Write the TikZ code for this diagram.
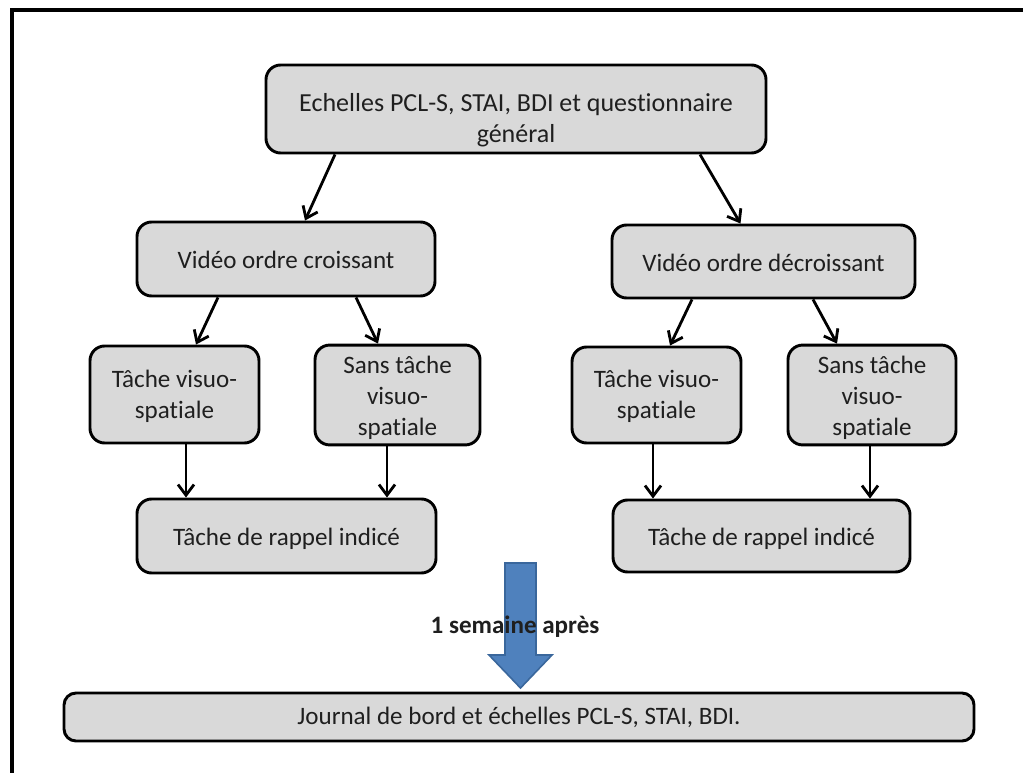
\documentclass[tikz,border=0pt]{standalone}
\usepackage{fontspec}
\setmainfont{Carlito}[Ligatures=NoCommon]
\usetikzlibrary{arrows.meta,calc}
\definecolor{boxfill}{HTML}{D9D9D9}
\definecolor{arrowblue}{HTML}{4F81BD}
\definecolor{arrowedge}{HTML}{3A679C}
% centred lines; the space put above them moves them down by half of it
\newcommand\stagetxt[2][5pt]{\vbox{\kern#1\hbox{\begin{tabular}{@{}c@{}}#2\end{tabular}}}}
\begin{document}
\begin{tikzpicture}[x=0.75pt,y=-0.75pt,
  stage/.style={draw=black, line width=2.2pt, fill=boxfill, rounded corners=11pt,
    inner sep=0pt, text=black!88,
    font=\fontsize{18.8}{23.3}\selectfont},
  dims/.style 2 args={minimum width=#1*0.75pt, minimum height=#2*0.75pt},
  flow/.style={-{Straight Barb[length=8pt,width=12pt]}, line width=2.1pt}]
\useasboundingbox (0,0) rectangle (1023,773);
\fill[white] (0,0) rectangle (1023,773);
% frame
\draw[line width=3pt] (11.7,773) -- (11.7,10.3) -- (1023,10.3);

% boxes
\node[stage, dims={500}{88}, font=\fontsize{19.5}{23.3}\selectfont] (top) at (516,109) {\stagetxt[17pt]{Echelles PCL-S, STAI, BDI et questionnaire\\général}};
\node[stage, dims={298}{74}] (vc) at (286,259) {\stagetxt{Vidéo ordre croissant}};
\node[stage, dims={303}{73}] (vd) at (763.5,261.5) {\stagetxt{Vidéo ordre décroissant}};
\node[stage, dims={169}{97}] (t1) at (174.5,394.5) {\stagetxt[3pt]{Tâche visuo-\\spatiale}};
\node[stage, dims={165}{96}] (s1) at (397.5,395) {\stagetxt{Sans tâche\\visuo-\\spatiale}};
\node[stage, dims={169}{96}] (t2) at (656.5,395) {\stagetxt[3pt]{Tâche visuo-\\spatiale}};
\node[stage, dims={168}{96}] (s2) at (872,395) {\stagetxt{Sans tâche\\visuo-\\spatiale}};
\node[stage, dims={299}{74}] (r1) at (286.5,536) {\stagetxt{Tâche de rappel indicé}};
\node[stage, dims={297}{72}] (r2) at (761.5,536) {\stagetxt{Tâche de rappel indicé}};
\node[stage, dims={910}{48}, rounded corners=9pt] (j) at (519,717) {\stagetxt[2pt]{Journal de bord et échelles PCL-S, STAI, BDI.}};

% connectors
\draw[flow] ($(top.south)+(-181,0)$) -- ($(vc.north)+(19,0)$);
\draw[flow] ($(top.south)+(184,0)$) -- ($(vd.north)+(-23,0)$);
\draw[flow] ($(vc.south)+(-68,0)$) -- ($(t1.north)+(21.5,0)$);
\draw[flow] ($(vc.south)+(70,0)$) -- ($(s1.north)+(-19.5,0)$);
\draw[flow] ($(vd.south)+(-71.5,0)$) -- ($(t2.north)+(13.5,0)$);
\draw[flow] ($(vd.south)+(49.5,0)$) -- ($(s2.north)+(-35,0)$);
\draw[flow] ($(t1.south)+(11.5,0)$) -- ($(r1.north)+(-100.5,0)$);
\draw[flow] ($(s1.south)+(-10.5,0)$) -- ($(r1.north)+(100.5,0)$);
\draw[flow] ($(t2.south)+(-3.5,0)$) -- ($(r2.north)+(-108.5,0)$);
\draw[flow] ($(s2.south)+(-2,0)$) -- ($(r2.north)+(108.5,0)$);

% block arrow towards the follow-up
\draw[fill=arrowblue, draw=arrowedge, line width=1.2pt]
  (505,563) -- (536,563) -- (536,655) -- (552,655) -- (520.5,688)
  -- (489,655) -- (505,655) -- cycle;
\node[font=\bfseries\fontsize{18.8}{22}\selectfont, text=black!88] (lag) at (515,627) {1 semaine après};
\end{tikzpicture}
\end{document}
